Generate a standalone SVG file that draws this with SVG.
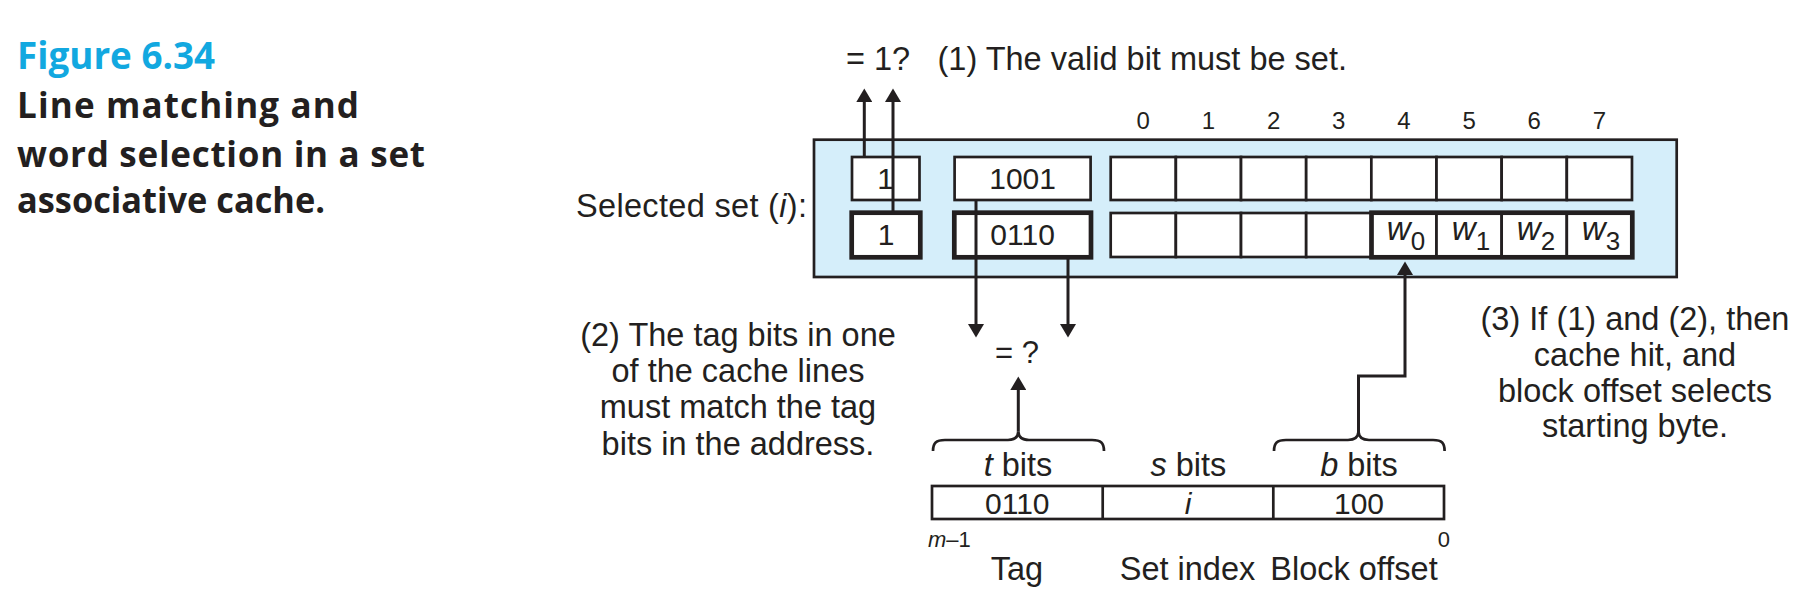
<svg xmlns="http://www.w3.org/2000/svg" width="1810" height="614" viewBox="0 0 1810 614">
<style>
 .t{font-family:"Liberation Sans",Arial,Helvetica,sans-serif;fill:#231f20}
 .a{font-size:32.5px}
 .c{font-size:30px;text-anchor:middle}
 .n{font-size:24px;text-anchor:middle}
 .s{font-size:22px}
 .mid{text-anchor:middle}
 .it{font-style:italic}
 .w{font-size:33px;text-anchor:middle}
 .thin{fill:#fff;stroke:#231f20;stroke-width:2.7}
 .thick{fill:#fff;stroke:#231f20;stroke-width:4.7}
 .frame{fill:none;stroke:#231f20;stroke-width:4.7}
 .ln{fill:none;stroke:#231f20;stroke-width:3}
 .br{fill:none;stroke:#231f20;stroke-width:2.7}
 .title{font-family:"Open Sans","Noto Sans",sans-serif;font-weight:bold}
</style>
<defs>
 <marker id="ah" markerUnits="userSpaceOnUse" markerWidth="14" markerHeight="16" viewBox="0 0 14 16" refX="0" refY="8" orient="auto">
  <path d="M0,0 L13.5,8 L0,16 z" fill="#231f20"/>
 </marker>
</defs>

<g id="caption">
 <text class="title" x="17" y="69" font-size="37" fill="#12A8E0" textLength="198" lengthAdjust="spacingAndGlyphs">Figure 6.34</text>
 <text class="title" x="17" y="118" font-size="35" fill="#231f20" textLength="342" lengthAdjust="spacing">Line matching and</text>
 <text class="title" x="17" y="167" font-size="35" fill="#231f20" textLength="408" lengthAdjust="spacing">word selection in a set</text>
 <text class="title" x="17" y="213" font-size="35" fill="#231f20" textLength="308" lengthAdjust="spacingAndGlyphs">associative cache.</text>
</g>

<g id="selected-set">
 <rect x="814" y="139.7" width="862.7" height="137.3" fill="#D5EEFA" stroke="#231f20" stroke-width="2.7"/>
 <text class="t a" x="576" y="217" textLength="231" lengthAdjust="spacing">Selected set (<tspan class="it">i</tspan>):</text>
 <g id="col-labels" class="t n">
  <text x="1143.3" y="129">0</text>
  <text x="1208.4" y="129">1</text>
  <text x="1273.6" y="129">2</text>
  <text x="1338.8" y="129">3</text>
  <text x="1403.9" y="129">4</text>
  <text x="1469.1" y="129">5</text>
  <text x="1534.2" y="129">6</text>
  <text x="1599.4" y="129">7</text>
 </g>
</g>

<g id="line1">
 <rect class="thin" x="852" y="157" width="67.5" height="43"/>
 <rect class="thin" x="954.6" y="157" width="136" height="43"/>
 <rect class="thin" x="1110.7" y="157" width="65.16" height="43"/>
 <rect class="thin" x="1175.86" y="157" width="65.16" height="43"/>
 <rect class="thin" x="1241.02" y="157" width="65.16" height="43"/>
 <rect class="thin" x="1306.18" y="157" width="65.16" height="43"/>
 <rect class="thin" x="1371.34" y="157" width="65.16" height="43"/>
 <rect class="thin" x="1436.5" y="157" width="65.16" height="43"/>
 <rect class="thin" x="1501.66" y="157" width="65.16" height="43"/>
 <rect class="thin" x="1566.82" y="157" width="65.16" height="43"/>
 <text class="t c" x="885.7" y="188.5">1</text>
 <text class="t c" x="1022.6" y="188.5">1001</text>
</g>

<g id="line2">
 <rect class="thick" x="851.7" y="212.7" width="68.6" height="44.6"/>
 <rect class="thick" x="954.3" y="212.7" width="136.7" height="44.6"/>
 <rect class="thin" x="1110.7" y="213" width="65.16" height="44"/>
 <rect class="thin" x="1175.86" y="213" width="65.16" height="44"/>
 <rect class="thin" x="1241.02" y="213" width="65.16" height="44"/>
 <rect class="thin" x="1306.18" y="213" width="65.16" height="44"/>
 <rect class="thin" x="1371.34" y="213" width="65.16" height="44"/>
 <rect class="thin" x="1436.5" y="213" width="65.16" height="44"/>
 <rect class="thin" x="1501.66" y="213" width="65.16" height="44"/>
 <rect class="thin" x="1566.82" y="213" width="65.16" height="44"/>
 <rect class="frame" x="1371.5" y="212.7" width="260.8" height="44.6"/>
 <text class="t c" x="886" y="244.5">1</text>
 <text class="t c" x="1022.6" y="244.5">0110</text>
 <text class="t w" x="1406" y="240"><tspan class="it">w</tspan><tspan font-size="26" dy="10">0</tspan></text>
 <text class="t w" x="1471" y="240"><tspan class="it">w</tspan><tspan font-size="26" dy="10">1</tspan></text>
 <text class="t w" x="1536" y="240"><tspan class="it">w</tspan><tspan font-size="26" dy="10">2</tspan></text>
 <text class="t w" x="1601" y="240"><tspan class="it">w</tspan><tspan font-size="26" dy="10">3</tspan></text>
</g>

<g id="address">
 <rect class="thin" x="932" y="486" width="512" height="33"/>
 <line x1="1102.7" y1="486" x2="1102.7" y2="519" stroke="#231f20" stroke-width="2.7"/>
 <line x1="1273.3" y1="486" x2="1273.3" y2="519" stroke="#231f20" stroke-width="2.7"/>
 <text class="t c" x="1017.3" y="514">0110</text>
 <text class="t c it" x="1188" y="514">i</text>
 <text class="t c" x="1359" y="514">100</text>
 <text class="t a mid" x="1018" y="476"><tspan class="it">t</tspan> bits</text>
 <text class="t a mid" x="1188.4" y="476"><tspan class="it">s</tspan> bits</text>
 <text class="t a mid" x="1359" y="476"><tspan class="it">b</tspan> bits</text>
 <text class="t s" x="928" y="547"><tspan class="it">m</tspan>–1</text>
 <text class="t s" x="1450" y="547" text-anchor="end">0</text>
 <text class="t a mid" x="1017" y="580">Tag</text>
 <text class="t a mid" x="1187.5" y="580">Set index</text>
 <text class="t a mid" x="1354" y="580">Block offset</text>
 <path class="br" d="M933,451 C933,443 936,440 945,440 L1008,440 C1015,440 1018,437 1018.3,431.7 C1018.6,437 1022,440 1029,440 L1092,440 C1101,440 1104,443 1104,451"/>
 <path class="br" d="M1274,451 C1274,443 1277,440 1286,440 L1348,440 C1355,440 1358.2,437 1358.5,431.7 C1358.8,437 1362,440 1369,440 L1433,440 C1442,440 1444.6,443 1444.6,451"/>
</g>

<g id="notes" class="t a">
 <text x="846" y="70">= 1?</text>
 <text x="937.5" y="70">(1) The valid bit must be set.</text>
 <text x="995" y="362.7" font-size="31">= ?</text>
 <text class="mid" x="738" y="345.5">(2) The tag bits in one</text>
 <text class="mid" x="738" y="381.5">of the cache lines</text>
 <text class="mid" x="738" y="418">must match the tag</text>
 <text class="mid" x="738" y="454.5">bits in the address.</text>
 <text class="mid" x="1635" y="330">(3) If (1) and (2), then</text>
 <text class="mid" x="1635" y="365.5">cache hit, and</text>
 <text class="mid" x="1635" y="401.5">block offset selects</text>
 <text class="mid" x="1635" y="437">starting byte.</text>
</g>

<g id="connectors">
 <line class="ln" x1="864.3" y1="157" x2="864.3" y2="102" marker-end="url(#ah)"/>
 <line class="ln" x1="893" y1="213" x2="893" y2="102" marker-end="url(#ah)"/>
 <line class="ln" x1="976" y1="200" x2="976" y2="324" marker-end="url(#ah)"/>
 <line class="ln" x1="1068" y1="257" x2="1068" y2="324" marker-end="url(#ah)"/>
 <line class="ln" x1="1018.3" y1="431.7" x2="1018.3" y2="390" stroke-width="3.6" marker-end="url(#ah)"/>
 <path class="ln" d="M1358.5,433 V376 H1405 V275" marker-end="url(#ah)"/>
</g>
</svg>
